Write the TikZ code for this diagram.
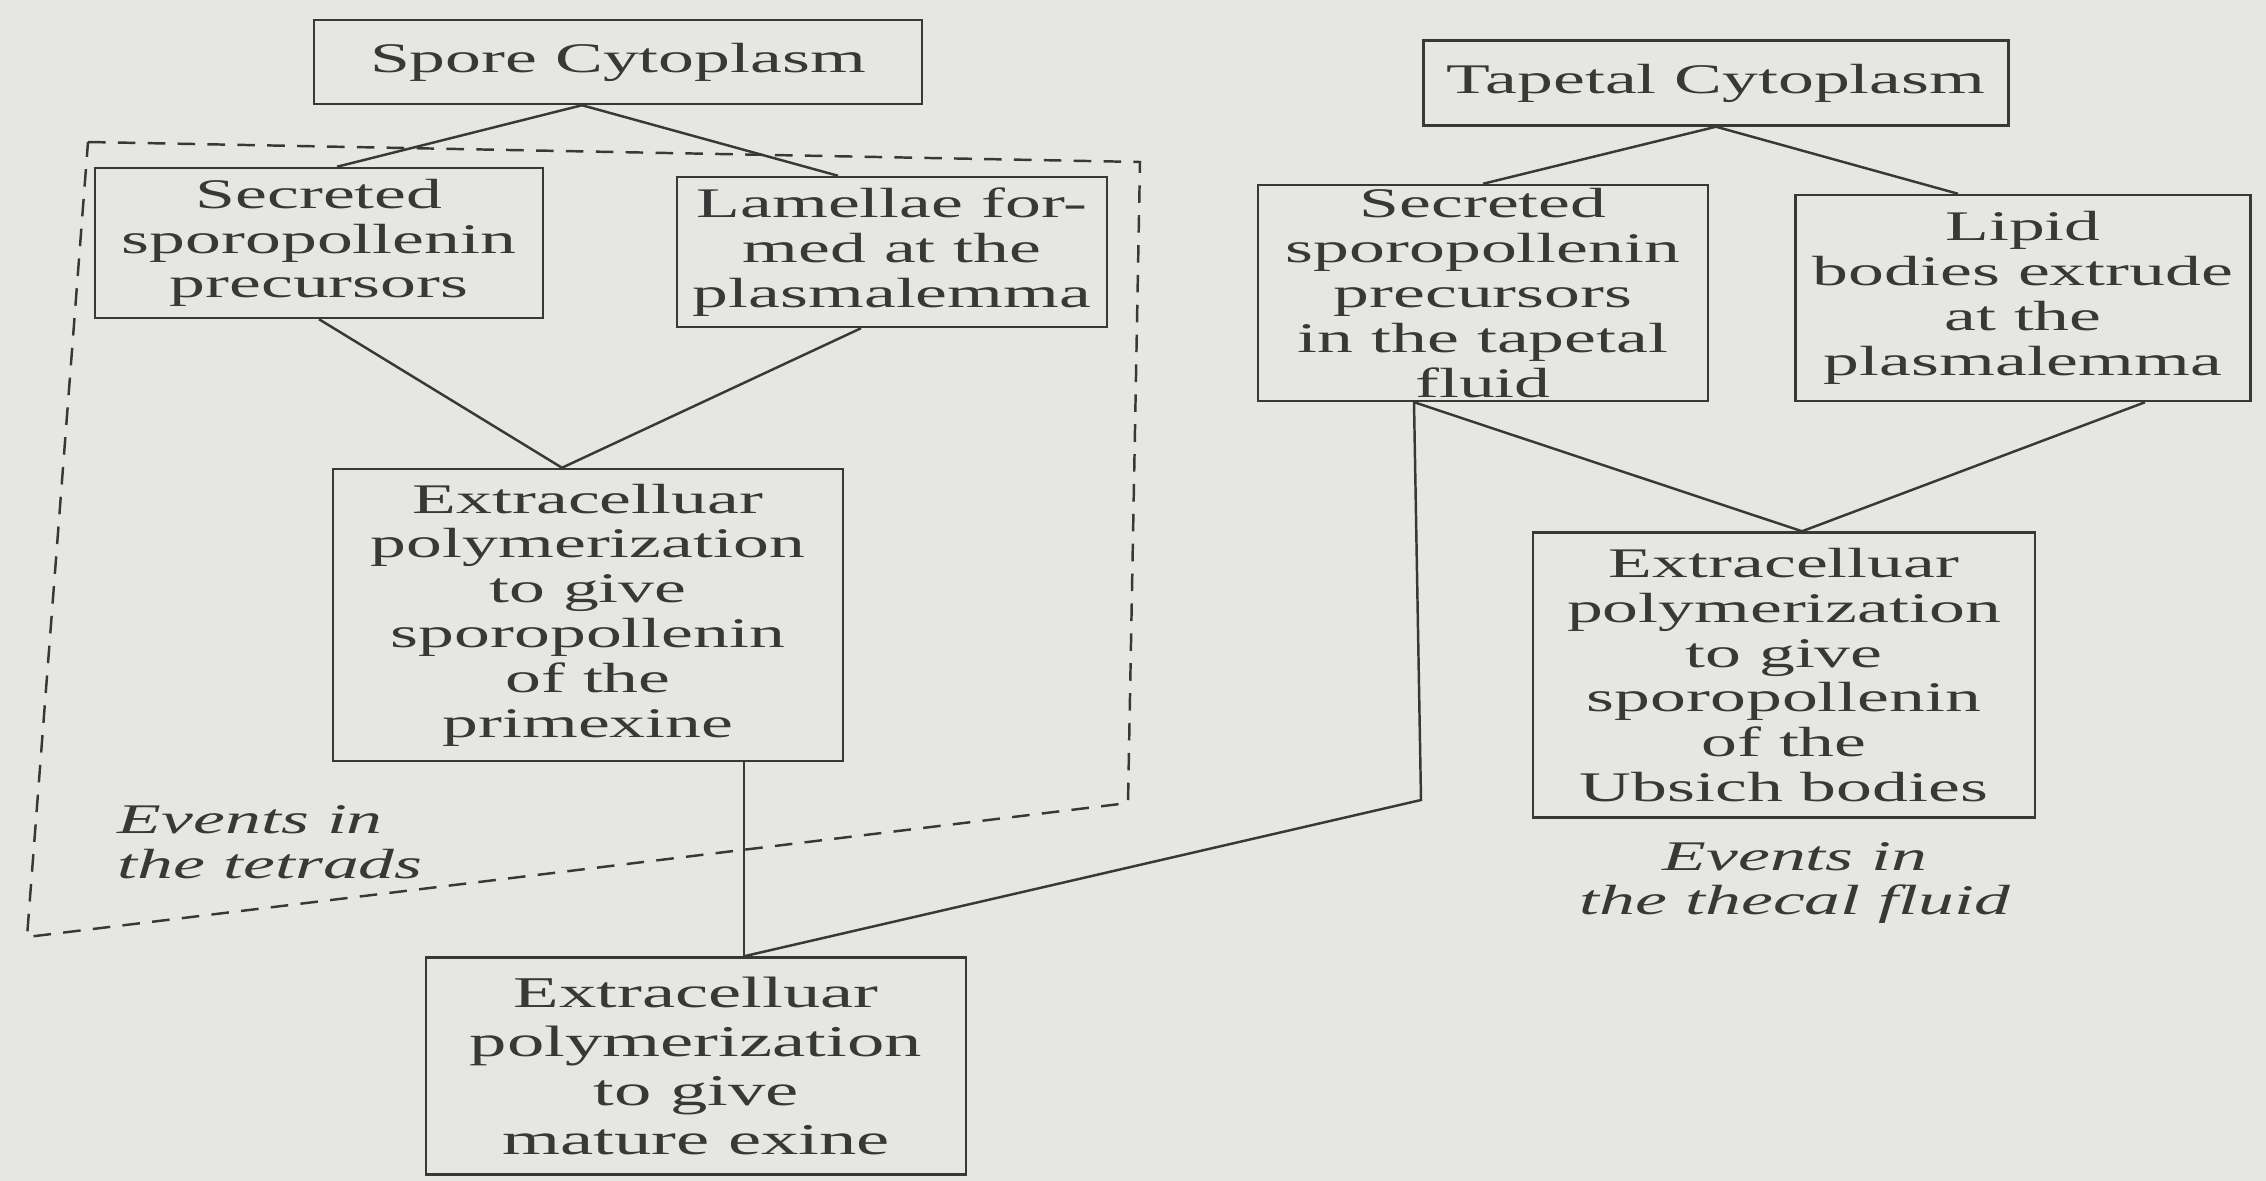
\documentclass[tikz,border=0pt]{standalone}
\usepackage{fontspec}
\setmainfont{Liberation Serif}[FakeStretch=1.7]
\usetikzlibrary{calc}
\definecolor{paper}{HTML}{E6E6E3}
\definecolor{ink}{HTML}{383838}
\tikzset{
  every picture/.style={line width=0.7pt},
  box/.style={draw=ink, text=ink, align=center, inner sep=1pt, font=\fontsize{12}{12.75}\selectfont},
  link/.style={draw=ink, line width=0.7pt},
  note/.style={font=\fontsize{12}{12.75}\selectfont\itshape, text=ink},
  zone/.style={draw=ink, line width=0.7pt, dash pattern=on 5pt off 3.5pt},
}

\begin{document}
\begin{tikzpicture}
  \fill[paper] (0,0) rectangle (22.66,-11.81);
  \useasboundingbox (0,0) rectangle (22.66,-11.81);
  % spore side
  \node[box, minimum width=6.08cm, minimum height=0.84cm] (spore) at (6.18,-0.62) {Spore Cytoplasm};
  \node[box, minimum width=4.48cm, minimum height=1.50cm] (lsec) at (3.19,-2.43) {Secreted\\sporopollenin\\precursors};
  \node[box, minimum width=4.30cm, minimum height=1.50cm] (lam) at (8.92,-2.52) {Lamellae for-\\med at the\\plasmalemma};
  \node[box, minimum width=5.10cm, minimum height=2.92cm] (prim) at (5.88,-6.15) {Extracelluar\\polymerization\\to give\\sporopollenin\\of the\\primexine};
  % tapetum side
  \node[box, minimum width=5.85cm, minimum height=0.85cm] (tap) at (17.16,-0.83) {Tapetal Cytoplasm};
  \node[box, minimum width=4.50cm, minimum height=2.12cm] (tsec) at (14.83,-2.93) {Secreted\\sporopollenin\\precursors\\in the tapetal\\fluid};
  \node[box, minimum width=4.55cm, minimum height=2.06cm] (lipid) at (20.23,-2.98) {Lipid\\bodies extrude\\at the\\plasmalemma};
  \node[box, minimum width=5.02cm, minimum height=2.85cm] (ubs) at (17.84,-6.75) {Extracelluar\\polymerization\\to give\\sporopollenin\\of the\\Ubsich bodies};
  % where both meet
  \node[box, minimum width=5.40cm, minimum height=2.17cm, font=\fontsize{12.5}{13.9}\selectfont] (exine) at (6.96,-10.66) {Extracelluar\\polymerization\\to give\\mature exine};
  \node[note, align=left, anchor=west] (tetrads) at (1.05,-8.42) {Events in\\the tetrads};
  \node[note, align=center] (thecal) at (17.95,-8.83) {Events in\\the thecal fluid};
  \draw[link] ([xshift=-3.6mm]spore.south) -- ([xshift=1.8mm]lsec.north);
  \draw[link] ([xshift=-3.6mm]spore.south) -- ([xshift=-5.4mm]lam.north);
  \draw[link] (lsec.south) -- ([xshift=-2.6mm]prim.north);
  \draw[link] ([xshift=-3.1mm]lam.south) -- ([xshift=-2.6mm]prim.north);
  \coordinate (join) at ([xshift=4.8mm]exine.north);
  \draw[link] (join |- prim.south) -- (join);
  \draw[link] (tap.south) -- (tsec.north);
  \draw[link] (tap.south) -- ([xshift=-6.5mm]lipid.north);
  \draw[link] ([xshift=-6.9mm]tsec.south) -- ([xshift=1.8mm]ubs.north);
  \draw[link] ([xshift=12.2mm]lipid.south) -- ([xshift=1.8mm]ubs.north);
  \coordinate (bend) at (14.21,-8.00);
  \draw[link] ([xshift=-6.9mm]tsec.south) -- (bend) -- (join);
  % events in the tetrads
  \draw[zone] (0.88,-1.42) -- (11.40,-1.62) -- (11.28,-8.03) -- (0.27,-9.37) -- cycle;
\end{tikzpicture}
\end{document}
